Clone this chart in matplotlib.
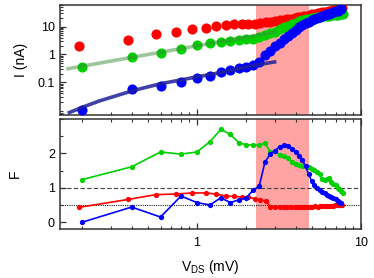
import matplotlib
matplotlib.use("Agg")
import matplotlib.pyplot as plt
from matplotlib.ticker import LogLocator, NullFormatter, FixedLocator, FixedFormatter, MultipleLocator

plt.rcParams["font.family"] = ["Liberation Sans", "DejaVu Sans"]
plt.rcParams["mathtext.fontset"] = "custom"
plt.rcParams["mathtext.rm"] = "Liberation Sans"

# bias points (mV): red sweep uses 0.1875 mV steps, green/blue 0.2 mV steps
v_red = [0.19, 0.38, 0.56, 0.75, 0.94, 1.13, 1.31, 1.50, 1.69, 1.88,
         2.06, 2.25, 2.44, 2.63, 2.81, 3.00, 3.19, 3.38, 3.56, 3.75,
         3.94, 4.13, 4.31, 4.50, 4.69, 4.88, 5.06, 5.25, 5.44, 5.63,
         5.81, 6.00, 6.19, 6.38, 6.56, 6.75, 6.94, 7.13, 7.31, 7.50, 7.69]
v_green = [0.2, 0.4, 0.6, 0.8, 1.0, 1.2, 1.4, 1.6, 1.8, 2.0,
           2.2, 2.4, 2.6, 2.8, 3.0, 3.2, 3.4, 3.6, 3.8, 4.0,
           4.2, 4.4, 4.6, 4.8, 5.0, 5.2, 5.4, 5.6, 5.8, 6.0,
           6.2, 6.4, 6.6, 6.8, 7.0, 7.2, 7.4, 7.6, 7.8]
v_blue = v_green[:38]

# current (nA)
i_red = [2.07, 3.4, 5.3, 6.6, 8.1, 9.0, 10.6, 11.8, 12.5, 12.5,
         12.5, 12.6, 13.9, 14.6, 15.3, 16.1, 17.0, 17.8, 18.6, 19.5,
         20.6, 21.6, 22.7, 23.8, 25.0, 26.2, 27.4, 28.6, 29.8, 31.0,
         32.3, 33.6, 34.9, 36.2, 37.5, 38.8, 40.1, 41.4, 42.7, 44.0, 45.3]
i_green = [0.364, 0.79, 1.16, 1.62, 2.2, 2.53, 2.88, 3.13, 3.3, 3.5,
           3.5, 4.16, 5.0, 5.9, 6.6, 8.3, 9.6, 10.8, 12.3, 14.0,
           15.8, 17.2, 18.5, 19.6, 20.5, 21.3, 22.0, 22.8, 23.4, 24.0,
           24.5, 25.0, 25.5, 26.0, 26.5, 27.0, 27.5, 28.0, 28.5]
i_blue = [0.01, 0.056, 0.074, 0.1, 0.139, 0.169, 0.229, 0.277, 0.319, 0.364,
          0.419, 0.55, 0.96, 1.3, 2.0, 2.6, 3.5, 4.6, 6.0, 7.8,
          10.0, 11.8, 13.5, 15.2, 16.8, 18.5, 20.3, 22.0, 23.8, 25.5,
          27.5, 29.5, 31.5, 33.5, 35.5, 37.5, 39.5, 41.5]

# Fano factor
f_red = [0.43, 0.66, 0.80, 0.82, 0.85, 0.85, 0.82, 0.76, 0.75, 0.73,
         0.73, 0.68, 0.65, 0.62, 0.45, 0.44, 0.44, 0.45, 0.44, 0.45,
         0.44, 0.43, 0.44, 0.45, 0.45, 0.44, 0.45, 0.46, 0.45, 0.46,
         0.46, 0.47, 0.46, 0.47, 0.48, 0.48, 0.49, 0.49, 0.50, 0.50, 0.51]
f_green = [1.24, 1.61, 2.04, 1.98, 2.04, 2.34, 2.70, 2.55, 2.31, 2.25,
           2.24, 2.24, 2.29, 2.05, 2.06, 1.96, 1.92, 1.88, 1.75, 1.70,
           1.67, 1.64, 1.62, 1.60, 1.56, 1.52, 1.47, 1.40, 1.25, 1.22,
           1.26, 1.28, 1.18, 1.10, 1.07, 1.00, 0.97, 0.90, 0.85]
f_blue = [0.0, 0.44, 0.15, 0.76, 0.57, 0.50, 0.71, 0.57, 0.65, 0.71,
          0.93, 1.05, 1.75, 1.98, 2.08, 2.20, 2.24, 2.22, 2.13, 2.05,
          1.93, 1.80, 1.62, 1.40, 1.20, 1.08, 1.00, 0.94, 0.89, 0.85,
          0.80, 0.76, 0.73, 0.69, 0.66, 0.63, 0.59, 0.56]

# fit curves
fit_green_v = [0.16, 3.05]
fit_green_i = [0.30, 6.6]
fit_blue_v = [0.163, 0.2, 0.255, 0.407, 0.593, 0.90, 1.38, 2.30, 3.05]
fit_blue_i = [0.0077, 0.0126, 0.0214, 0.050, 0.087, 0.139, 0.22, 0.42, 0.55]

span = (2.3, 4.8)

RED, GREEN, BLUE = "#ff0000", "#00d000", "#0000ff"
SPAN_COLOR = "#ffa3a3"

fig = plt.figure(figsize=(3.74, 2.78), dpi=100)
ax_i = fig.add_axes([0.160, 0.586, 0.805, 0.396])
ax_f = fig.add_axes([0.160, 0.176, 0.805, 0.396])

for ax in (ax_i, ax_f):
    ax.set_xscale("log")
    ax.set_xlim(0.146, 10)
    ax.axvspan(*span, color=SPAN_COLOR, lw=0, zorder=0)
    for s in ax.spines.values():
        s.set_color("#333333")
        s.set_linewidth(1.1)
    ax.tick_params(which="both", direction="in", labelsize=9, color="#333333")
    ax.tick_params(which="major", length=4.5, width=0.9)
    ax.tick_params(which="minor", length=2.5, width=0.8)

# --- top: I-V ---
ms = 7.3
ax_i.plot(v_red, i_red, "o", color=RED, ms=ms, mec="none", zorder=2)
ax_i.plot(v_green, i_green, "o", color=GREEN, ms=ms, mec="none", zorder=3)
ax_i.plot(v_blue, i_blue, "o", color=BLUE, ms=ms, mec="none", zorder=4)
ax_i.plot(fit_green_v, fit_green_i, "-", color="#3c8f3c", lw=2.6, alpha=0.5, zorder=5,
          solid_capstyle="butt")
ax_i.plot(fit_blue_v, fit_blue_i, "-", color="#20209a", lw=2.6, alpha=0.85, zorder=5,
          solid_capstyle="butt")
ax_i.set_yscale("log")
ax_i.set_ylim(0.0066, 60)
ax_i.yaxis.set_major_locator(FixedLocator([0.1, 1, 10]))
ax_i.yaxis.set_major_formatter(FixedFormatter(["0.1", "1", "10"]))
ax_i.yaxis.set_minor_locator(LogLocator(base=10, subs=range(2, 10)))
ax_i.yaxis.set_minor_formatter(NullFormatter())
ax_i.xaxis.set_minor_locator(LogLocator(base=10, subs=range(2, 10)))
ax_i.xaxis.set_major_locator(FixedLocator([1, 10]))
ax_i.tick_params(axis="x", which="both", labelbottom=False)
ax_i.set_ylabel("I (nA)", fontsize=10, labelpad=7)

# --- bottom: Fano factor ---
ax_f.axhline(1.0, color="#444444", lw=0.8, ls=(0, (4, 2)), zorder=1)
ax_f.axhline(0.5, color="#222222", lw=0.8, ls=(0, (1, 1)), zorder=1)
ax_f.plot(v_green, f_green, "-o", color=GREEN, ms=3.8, lw=1.2, mec="none", zorder=3)
ax_f.plot(v_red, f_red, "-o", color=RED, ms=3.8, lw=1.2, mec="none", zorder=2)
ax_f.plot(v_blue, f_blue, "-o", color=BLUE, ms=3.8, lw=1.2, mec="none", zorder=4)
ax_f.set_ylim(-0.2, 3.0)
ax_f.yaxis.set_major_locator(FixedLocator([0, 1, 2]))
ax_f.yaxis.set_minor_locator(MultipleLocator(0.5))
ax_f.xaxis.set_major_locator(FixedLocator([1, 10]))
ax_f.xaxis.set_major_formatter(FixedFormatter(["1", "10"]))
ax_f.xaxis.set_minor_locator(LogLocator(base=10, subs=range(2, 10)))
ax_f.xaxis.set_minor_formatter(NullFormatter())
ax_f.tick_params(axis="x", which="both", top=True, pad=6)
ax_f.set_ylabel("F", fontsize=10, labelpad=19)
ax_f.set_xlabel("V$_{\\rm DS}$ (mV)", fontsize=10, labelpad=6)

fig.savefig("out.png", dpi=100)
